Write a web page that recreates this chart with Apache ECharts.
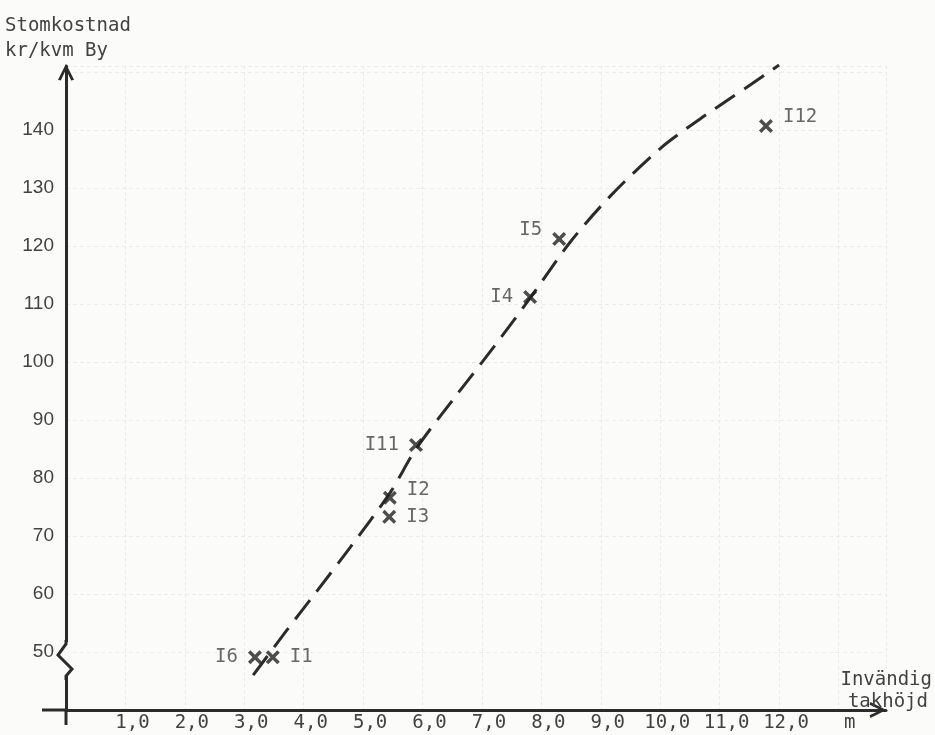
<!DOCTYPE html>
<html>
<head>
<meta charset="utf-8">
<script src="https://cdn.jsdelivr.net/npm/echarts@6/dist/echarts.min.js"></script>
<style>
  html, body { margin: 0; padding: 0; background: #fbfbfa; }
  #chart { width: 935px; height: 735px; }
</style>
</head>
<body>
<div id="chart"></div>
<script>
// ---- data ----
const pointNames = ['I6', 'I1', 'I2', 'I3', 'I11', 'I4', 'I5', 'I12'];
const pointX     = [3.18, 3.48, 5.45, 5.44, 5.89, 7.81, 8.30, 11.78];
const pointY     = [49.1, 49.1, 76.6, 73.3, 85.7, 111.2, 121.2, 140.7];

const trendX = [3.15, 3.72, 4.2, 4.78, 5.45, 5.89, 6.52, 7.2, 7.81, 8.48, 9.16, 10.0, 10.67, 11.2, 11.55, 12.0];
const trendY = [46.0, 53.8, 60.2, 68.0, 77.4, 85.0, 93.6, 102.6, 111.0, 120.6, 128.6, 136.8, 141.9, 145.6, 148.0, 151.2];

const xTickValues = [1, 2, 3, 4, 5, 6, 7, 8, 9, 10, 11, 12];
const xUnitLabel = 'm';
const yTickValues = [50, 60, 70, 80, 90, 100, 110, 120, 130, 140];
const yTitle = 'Stomkostnad\nkr/kvm By';
const xTitleLines = ['Invändig', 'takhöjd'];

// ---- styling (kept apart from data) ----
const labelSide = { I6: 'left', I1: 'right', I2: 'right', I3: 'right', I11: 'left', I4: 'left', I5: 'left', I12: 'right' };
const labelShift = { I5: [0, -9], I12: [0, -9], I2: [0, -8] };

const ink = '#2b2b2b';
const textInk = '#424242';
const mono = '"DejaVu Sans Mono", "Liberation Mono", monospace';
const sans = '"Liberation Sans", Arial, sans-serif';
const chevron = 'path://M0,20 L10,0 L20,20 L16.5,21 L10,7 L3.5,21 Z';
const crossPath = 'path://M0,3.5 L3.5,0 L10,6.5 L16.5,0 L20,3.5 L13.5,10 L20,16.5 L16.5,20 L10,13.5 L3.5,20 L0,16.5 L6.5,10 Z';

const chart = echarts.init(document.getElementById('chart'), null, { renderer: 'canvas' });

const unitPos = 13.07;
const scatterData = pointNames.map((n, i) => ({
  name: n,
  value: [pointX[i], pointY[i]],
  label: {
    position: labelSide[n],
    offset: labelShift[n] || [0, 0]
  }
}));

chart.setOption({
  backgroundColor: '#fbfbfa',
  animation: false,
  title: [
    { text: yTitle, left: 0, top: 9,
      textStyle: { fontFamily: mono, fontSize: 19, fontWeight: 'normal', color: textInk, lineHeight: 25 } }
  ],
  grid: { left: 66, right: 49, top: 66.2, bottom: 25, containLabel: false },
  xAxis: {
    type: 'value', min: 0, max: 13.8, interval: 1,
    axisLine: { show: true, onZero: false, symbol: ['none', chevron], symbolSize: [16, 20], symbolOffset: [0, -8],
      lineStyle: { color: ink, width: 3 } },
    axisTick: { show: false },
    axisLabel: {
      customValues: xTickValues.concat([unitPos]),
      formatter: v => v > 12.5 ? xUnitLabel : v.toFixed(1).replace('.', ','),
      fontFamily: mono, fontSize: 19, color: textInk, margin: 4, padding: [0, 0, 0, 14]
    },
    splitLine: { show: true, lineStyle: { color: '#e9e9e9', width: 1, type: [3, 3] } }
  },
  yAxis: {
    type: 'value', min: 40, max: 151, interval: 10,
    axisLine: { show: true, symbol: ['none', chevron], symbolSize: [16, 20], symbolOffset: [0, -6],
      lineStyle: { color: ink, width: 3 } },
    axisTick: { show: false },
    axisLabel: {
      customValues: yTickValues,
      fontFamily: sans, fontSize: 19, color: textInk, margin: 12, padding: [0, 0, 14, 0]
    },
    splitLine: { show: true, lineStyle: { color: '#ececec', width: 1, type: [4, 3] } }
  },
  series: [
    {
      type: 'line', name: 'trend', smooth: 0.3, showSymbol: false, clip: false,
      data: trendX.map((x, i) => [x, trendY[i]]),
      lineStyle: { color: ink, width: 3, type: [24, 11], cap: 'butt' },
      z: 3
    },
    {
      type: 'scatter', name: 'points', symbol: crossPath, symbolSize: 14,
      itemStyle: { color: '#222' },
      label: { show: true, formatter: '{b}', fontFamily: mono, fontSize: 19, color: textInk, distance: 10 },
      data: scatterData, z: 4
    }
  ]
});

// Axis break mark, axis extensions and x-axis title (decoration, positioned from the axis scale)
const p50 = chart.convertToPixel({ gridIndex: 0 }, [0, 50]);
const p40 = chart.convertToPixel({ gridIndex: 0 }, [0, 40]);
const ax = p50[0];
chart.setOption({
  graphic: [
    { type: 'rect', shape: { x: ax - 4, y: p50[1] - 10, width: 8, height: 34 }, style: { fill: '#fbfbfa' }, z: 10 },
    { type: 'polyline', shape: { points: [[ax, p50[1] - 12], [ax, p50[1] - 8], [ax - 8, p50[1] + 3], [ax + 6, p50[1] + 17], [ax, p50[1] + 24], [ax, p50[1] + 28]] },
      style: { stroke: ink, lineWidth: 3, fill: null }, z: 11 },
    { type: 'line', shape: { x1: ax, y1: p40[1], x2: ax, y2: p40[1] + 15 }, style: { stroke: ink, lineWidth: 3 }, z: 11 },
    { type: 'line', shape: { x1: ax - 24, y1: p40[1], x2: ax, y2: p40[1] }, style: { stroke: ink, lineWidth: 3 }, z: 11 },
    { type: 'text', right: 3, top: 671, z: 12,
      style: { text: xTitleLines[0], font: '19px ' + mono, fill: textInk } },
    { type: 'text', right: 7, top: 693, z: 12,
      style: { text: xTitleLines[1], font: '19px ' + mono, fill: textInk } }
  ]
});
</script>
</body>
</html>
